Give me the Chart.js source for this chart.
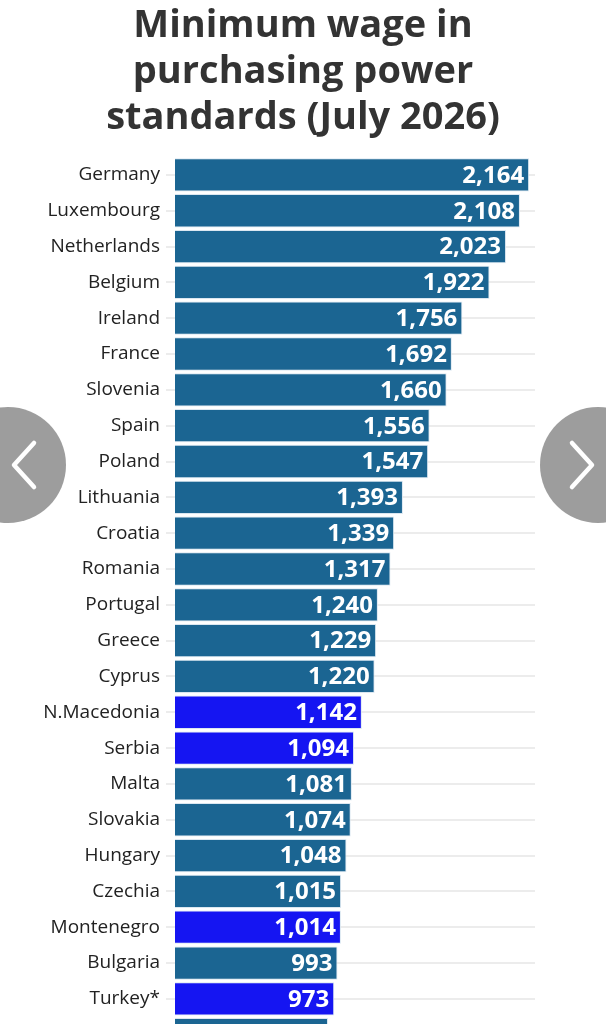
<!DOCTYPE html>
<html>
<head>
<meta charset="utf-8">
<script src="https://cdn.jsdelivr.net/npm/chart.js@4"></script>
<style>
  html, body { margin: 0; padding: 0; background: #fff; overflow: hidden; }
  #wrap { position: relative; width: 606px; height: 1070px; }
  #wageChart { position: absolute; top: 0; left: 0; width: 606px; height: 1070px; }
  #title {
    position: absolute; top: -1px; left: 0; width: 606px; text-align: center;
    font: bold 38px/46px 'Open Sans', sans-serif; color: #333;
  }
  .nav {
    position: absolute; top: 407px; width: 116px; height: 116px;
    border-radius: 50%; background: rgba(140,140,140,0.85);
  }
  .nav svg { position: absolute; top: 0; left: 0; }
  #prev { left: -50px; }
  #next { left: 540px; }
</style>
</head>
<body>
<div id="wrap">
  <canvas id="wageChart" width="606" height="1070"></canvas>
  <div id="title"></div>
  <div class="nav" id="prev">
    <svg width="116" height="116"><polyline points="84,36 64,58 84,80" fill="none" stroke="#fff" stroke-width="4.5" stroke-linecap="round" stroke-linejoin="round"/></svg>
  </div>
  <div class="nav" id="next">
    <svg width="116" height="116"><polyline points="32,36 52,58 32,80" fill="none" stroke="#fff" stroke-width="4.5" stroke-linecap="round" stroke-linejoin="round"/></svg>
  </div>
</div>
<script>
const titleLines = ["Minimum wage in", "purchasing power", "standards (July 2026)"];

const countries = [
  "Germany", "Luxembourg", "Netherlands", "Belgium", "Ireland", "France",
  "Slovenia", "Spain", "Poland", "Lithuania", "Croatia", "Romania",
  "Portugal", "Greece", "Cyprus", "N.Macedonia", "Serbia", "Malta",
  "Slovakia", "Hungary", "Czechia", "Montenegro", "Bulgaria", "Turkey*", ""
];

const wages = [
  2164, 2108, 2023, 1922, 1756, 1692,
  1660, 1556, 1547, 1393, 1339, 1317,
  1240, 1229, 1220, 1142, 1094, 1081,
  1074, 1048, 1015, 1014, 993, 973, 935
];

// non-EU countries drawn in the bright blue
const highlighted = ["N.Macedonia", "Serbia", "Montenegro", "Turkey*"];

const baseColor = "#1b6592";
const highlightColor = "#1515f2";

const barColors = countries.map((c) => highlighted.includes(c) ? highlightColor : baseColor);

document.getElementById("title").innerHTML = titleLines.join("<br>");

// value labels at the end of each bar
const valueLabels = {
  id: "valueLabels",
  afterDatasetsDraw(chart) {
    const ctx = chart.ctx;
    const meta = chart.getDatasetMeta(0);
    ctx.save();
    ctx.font = "bold 24px 'Open Sans'";
    ctx.fillStyle = "#fff";
    ctx.textAlign = "right";
    ctx.textBaseline = "middle";
    meta.data.forEach((bar, i) => {
      ctx.fillText(wages[i].toLocaleString("en-US"), bar.x - 5, bar.y + 1);
    });
    ctx.restore();
  },
};

const ctx = document.getElementById("wageChart").getContext("2d");
new Chart(ctx, {
  type: "bar",
  data: {
    labels: countries,
    datasets: [
      {
        data: wages,
        backgroundColor: barColors,
        borderColor: "rgba(215,228,240,0.9)",
        borderWidth: 1,
        categoryPercentage: 1,
        barPercentage: 0.93,
      },
    ],
  },
  options: {
    indexAxis: "y",
    responsive: false,
    animation: false,
    layout: { padding: { top: 157, right: 71, bottom: 8, left: 0 } },
    plugins: {
      legend: { display: false },
      tooltip: { enabled: false },
    },
    scales: {
      x: {
        display: false,
        min: 0,
        max: 2200,
      },
      y: {
        afterFit(scale) {
          scale.width = 175;
        },
        border: { display: false },
        grid: {
          offset: false,
          color: "#ececec",
          lineWidth: 2,
          tickLength: 9,
        },
        ticks: {
          color: "#222",
          padding: 6,
          font: { family: "'Open Sans'", size: 19 },
        },
      },
    },
  },
  plugins: [valueLabels],
});
</script>
</body>
</html>
